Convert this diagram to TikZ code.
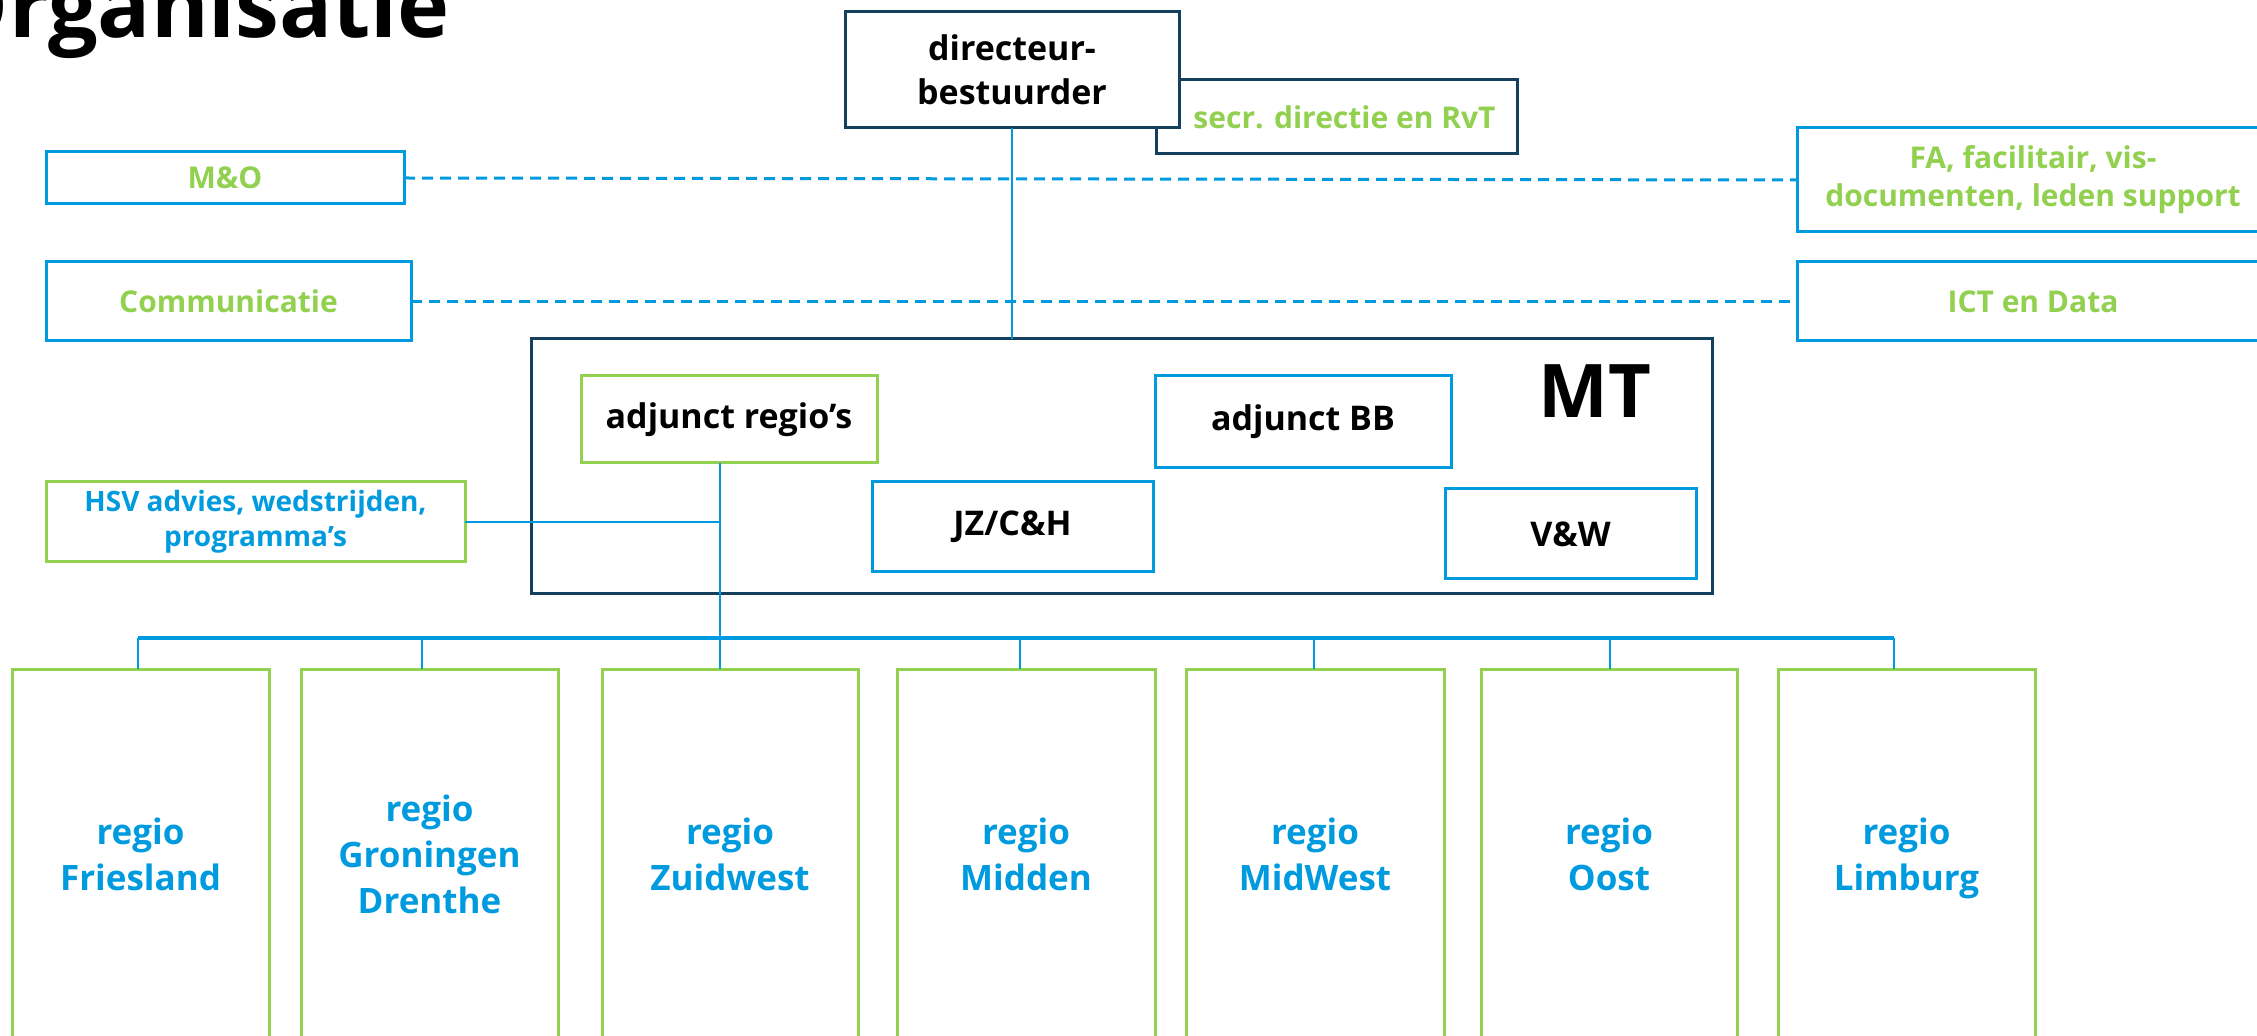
\documentclass[tikz,border=0pt]{standalone}
\usepackage{fontspec}
\usetikzlibrary{calc}
\setmainfont{Open Sans}
\definecolor{cblue}{RGB}{0,155,222}
\definecolor{cgreen}{RGB}{146,208,80}
\definecolor{cnavy}{RGB}{20,64,94}
\newcommand\mkbox[7]{%
  \pgfmathsetmacro\mkbw{(#5-#3)*0.5}%
  \pgfmathsetmacro\mkbh{(#6-#4)*0.5}%
  \node[#2,minimum width=\mkbw pt,minimum height=\mkbh pt] (#1) at ({(#3+#5)/2},{(#4+#6)/2}) {#7};}
\begin{document}
\begin{tikzpicture}[x=0.5pt,y=-0.5pt,
  box/.style={draw, line width=1.5pt, fill=white, inner sep=0pt, outer sep=0pt, align=center,
              font=\bfseries\fontsize{17}{22}\selectfont},
  bluebox/.style={box, draw=cblue},
  greenbox/.style={box, draw=cgreen},
  navybox/.style={box, draw=cnavy},
  gtext/.style={text=cgreen, font=\bfseries\fontsize{15}{19}\selectfont},
  btext/.style={text=cblue},
  rtext/.style={text=cblue, font=\bfseries\fontsize{17.5}{23}\selectfont},
  conn/.style={draw=cblue, line width=1.25pt},
  bus/.style={draw=cblue, line width=1.75pt},
  dconn/.style={draw=cblue, line width=1.5pt, dash pattern=on 5.5pt off 3.5pt}]
\useasboundingbox (0,0) rectangle (2257,1036);

% title
\node[anchor=base east, inner sep=0pt, font=\bfseries\fontsize{44}{50}\selectfont] (title) at (450,38) {Organisatie};

% top
\mkbox{secr}{navybox,gtext}{1156}{80}{1517}{154}{\hspace*{8pt}secr. directie en RvT}
\mkbox{dir}{navybox}{845}{12}{1179}{128}{directeur-\\bestuurder}

% staff
\mkbox{mo}{bluebox,gtext}{46}{152}{404}{204}{M\&O}
\mkbox{comm}{bluebox,gtext}{46}{262}{411}{341}{Communicatie}
\mkbox{fa}{bluebox,gtext}{1797}{128}{2269}{232}{FA, facilitair, vis-\\documenten, leden support}
\mkbox{ict}{bluebox,gtext}{1797}{262}{2269}{341}{ICT en Data}

% MT
\mkbox{mt}{navybox}{531}{339}{1712}{594}{}
\node[anchor=base, inner sep=0pt, font=\bfseries\fontsize{37}{40}\selectfont] (mtlabel) at (1595,418) {MT};
\mkbox{adjreg}{greenbox}{581}{376}{877}{463}{adjunct regio’s}
\mkbox{adjbb}{bluebox}{1155}{376}{1451}{468}{adjunct BB}
\mkbox{jz}{bluebox}{872}{482}{1153}{572}{JZ/C\&H}
\mkbox{vw}{bluebox}{1445}{489}{1696}{579}{V\&W}

% HSV
\mkbox{hsv}{greenbox,btext,font=\bfseries\fontsize{14}{17.5}\selectfont}{46}{482}{465}{562}{HSV advies, wedstrijden,\\programma’s}

% regions
\mkbox{fries}{greenbox,rtext}{12}{669}{269}{1047}{regio\\Friesland\vphantom{g}}
\mkbox{gron}{greenbox,rtext}{301}{669}{558}{1047}{regio\\Groningen\\Drenthe\vphantom{g}}
\mkbox{zuid}{greenbox,rtext}{602}{669}{858}{1047}{regio\\Zuidwest\vphantom{g}}
\mkbox{midden}{greenbox,rtext}{897}{669}{1155}{1047}{regio\\Midden\vphantom{g}}
\mkbox{midwest}{greenbox,rtext}{1186}{669}{1444}{1047}{regio\\MidWest\vphantom{g}}
\mkbox{oost}{greenbox,rtext}{1481}{669}{1737}{1047}{regio\\Oost\vphantom{g}}
\mkbox{limb}{greenbox,rtext}{1778}{669}{2035}{1047}{regio\\Limburg}

% connectors
\draw[conn] (dir.south) -- (dir.south |- mt.north);
\draw[dconn] (mo.east) -- (fa.west);
\draw[dconn] (comm.east) -- (ict.west);
\coordinate (trunk) at ([xshift=-4.5pt]adjreg.south);
\draw[conn] (trunk) -- (trunk |- zuid.north);
\draw[conn] (hsv.east) -- (hsv.east -| trunk);
\coordinate (busL) at ([xshift=-1.25pt]fries.north);
\coordinate (busR) at ([xshift=-6.25pt]limb.north);
\draw[bus] ($(busL)+(0,-31)$) -- ($(busR)+(0,-31)$);
\foreach \n/\s in {fries/-1.25, gron/-3.75, midden/-3, midwest/-0.5, oost/0.5, limb/-6.25}{
  \draw[conn] ([xshift=\s pt]\n.north) -- ++(0,-31);
}
\end{tikzpicture}
\end{document}
